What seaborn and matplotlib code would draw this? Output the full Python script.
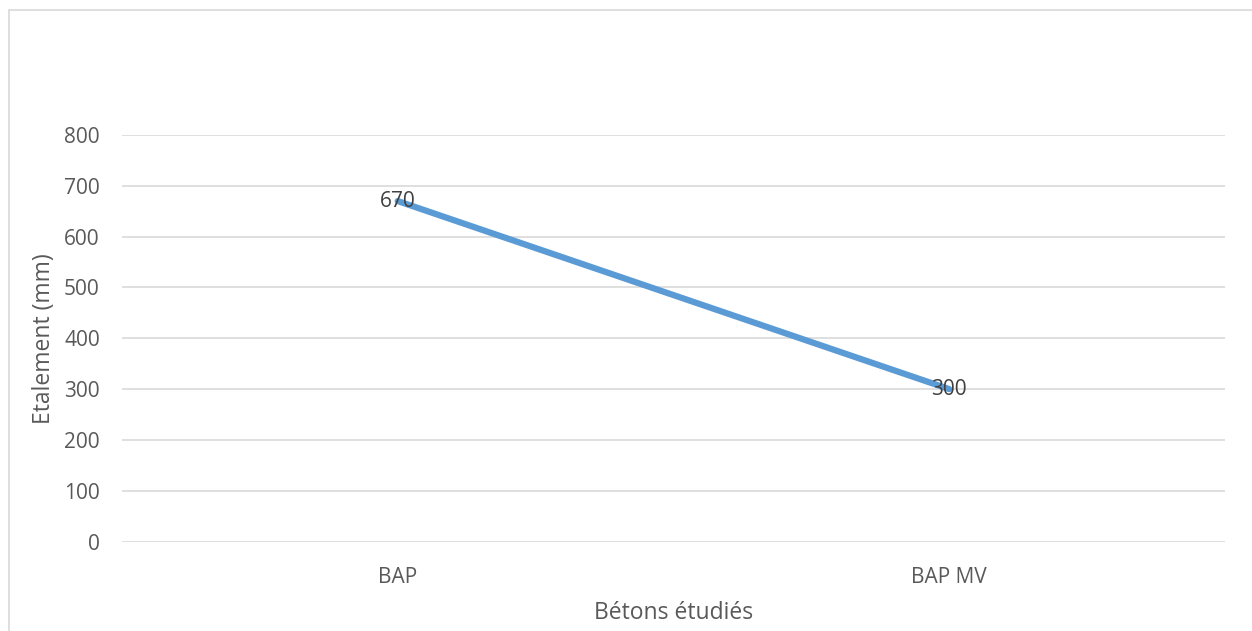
import matplotlib
matplotlib.use("Agg")
import matplotlib.pyplot as plt
import seaborn as sns
import pandas as pd
from matplotlib.patches import Rectangle

categories = ["BAP", "BAP MV"]
etalement = [670, 300]
y_ticks = [0, 100, 200, 300, 400, 500, 600, 700, 800]

df = pd.DataFrame({"Béton": categories, "Etalement": etalement})

sns.set_theme(style="white")
plt.rcParams["font.family"] = ["Open Sans", "DejaVu Sans"]

W, H = 1252, 631
fig = plt.figure(figsize=(W / 100, H / 100), dpi=100)
ax = fig.add_axes([122 / W, 1 - 541.6 / H, (1225 - 122) / W, (541.6 - 135) / H])

sns.lineplot(data=df, x="Béton", y="Etalement", ax=ax, color="#5B9BD5",
             linewidth=4.5, sort=False, solid_capstyle="round")

for i, v in enumerate(etalement):
    ax.text(i, v, f"{v}", ha="center", va="center", fontsize=15, color="#404040")

ax.set_xlim(-0.5, 1.5)
ax.set_ylim(0, 800)
ax.set_yticks(y_ticks)
ax.set_yticklabels([str(t) for t in y_ticks])
ax.yaxis.grid(True, color="#D9D9D9", linewidth=1.2)
ax.xaxis.grid(False)
for s in ax.spines.values():
    s.set_visible(False)
ax.tick_params(axis="y", length=0, pad=16, labelsize=15, labelcolor="#595959")
ax.tick_params(axis="x", length=0, pad=18, labelsize=15, labelcolor="#595959")
ax.set_xlabel("Bétons étudiés", fontsize=16.5, color="#595959", labelpad=10)
ax.set_ylabel("Etalement (mm)", fontsize=16.5, color="#595959", labelpad=6)

fig.patches.append(Rectangle((8.5 / W, -0.05), 1.2, 1 - 10.5 / H + 0.05,
                             transform=fig.transFigure, fill=False,
                             edgecolor="#D9D9D9", linewidth=1.2))

fig.savefig("out.png", dpi=100, facecolor="white")
